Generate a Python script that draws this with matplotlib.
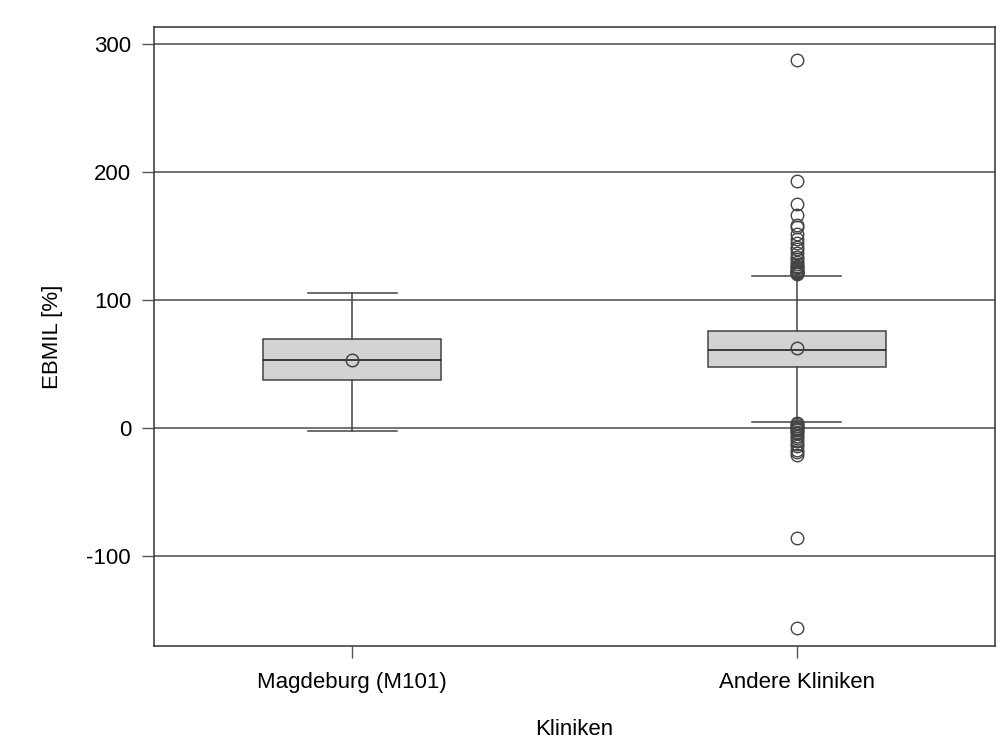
import matplotlib.pyplot as plt

plt.rcParams['font.family'] = ['Liberation Sans', 'DejaVu Sans']
plt.rcParams['axes.unicode_minus'] = False

# EBMIL [%] summary per clinic group
groups = ['Magdeburg (M101)', 'Andere Kliniken']
whisker_low = [-2.5, 5]
q1 = [38, 48]
median = [53, 61]
q3 = [70, 76]
whisker_high = [105.5, 119]
mean = [53, 62.5]

# outliers of the "Andere Kliniken" group
outliers_andere = [287.5, 193, 175, 167, 159, 157, 152, 148, 145, 142, 140,
                   137, 134, 132, 130, 128, 127, 126, 125, 124, 123, 122, 122,
                   121, 121, 120.5,
                   4, 3, 2, 1.5, 0.5, -0.5, -1.5, -3, -4, -6, -8, -10, -12,
                   -14, -17, -19, -21, -86, -156.5]
outliers = [[], outliers_andere]

stats = []
for i, name in enumerate(groups):
    stats.append({
        'label': name,
        'whislo': whisker_low[i],
        'q1': q1[i],
        'med': median[i],
        'q3': q3[i],
        'whishi': whisker_high[i],
        'mean': mean[i],
        'fliers': outliers[i],
    })

fig = plt.figure(figsize=(10, 7.55), dpi=100)
ax = fig.add_axes([0.154, 0.144, 0.841, 0.820])

grid_color = '#4d4d4d'
ax.set_axisbelow(True)
ax.yaxis.grid(True, color=grid_color, linewidth=1.1)

edge = '#444444'
ax.bxp(stats, positions=[1, 2], widths=0.4, capwidths=0.2,
       patch_artist=True, showmeans=True, showfliers=True,
       boxprops=dict(facecolor='#d3d3d3', edgecolor=edge, linewidth=1.1),
       medianprops=dict(color='#111111', linewidth=1.1),
       whiskerprops=dict(color=edge, linewidth=1.1),
       capprops=dict(color=edge, linewidth=1.1),
       meanprops=dict(marker='o', markerfacecolor='none',
                      markeredgecolor='#444444', markersize=9,
                      markeredgewidth=1.1),
       flierprops=dict(marker='o', markerfacecolor='none',
                       markeredgecolor='#444444', markersize=9,
                       markeredgewidth=1.0))

ax.set_xlim(0.555, 2.445)
ax.set_ylim(-170.5, 313.5)
ax.set_yticks([-100, 0, 100, 200, 300])
ax.set_xticks([1, 2])
ax.set_xticklabels(groups)

for side in ['left', 'right', 'top', 'bottom']:
    ax.spines[side].set_color('#333333')
    ax.spines[side].set_linewidth(1.1)

ax.tick_params(axis='both', direction='out', length=8.5, width=1.0,
               color='#555555', labelsize=16, pad=8)
ax.tick_params(axis='x', pad=10)

ax.set_xlabel('Kliniken', fontsize=16, labelpad=19)
ax.set_ylabel('EBMIL [%]', fontsize=16, labelpad=17)

fig.savefig('out.png', dpi=100)
